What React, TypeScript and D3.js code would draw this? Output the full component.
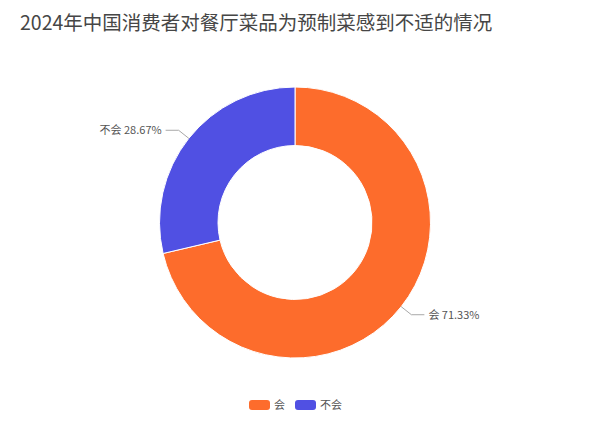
import * as d3 from "d3";
import { useEffect, useRef } from "react";

const categories = ["会", "不会"];
const values = [71.33, 28.67];
const colors = ["#fd6c2c", "#5050e3"];
const title = "2024年中国消费者对餐厅菜品为预制菜感到不适的情况";

const W = 600;
const H = 422;
const FONT = "'Noto Sans CJK SC', 'Noto Sans', sans-serif";

interface Slice {
  label: string;
  value: number;
  color: string;
}

const slices: Slice[] = categories.map((c, i) => ({
  label: c,
  value: values[i],
  color: colors[i],
}));

export default function App() {
  const svgRef = useRef<SVGSVGElement>(null);

  useEffect(() => {
    if (!svgRef.current) return;
    const svg = d3.select(svgRef.current);
    svg.selectAll("*").remove();

    const cx = 295;
    const cy = 222.5;
    const outer = 135.5;
    const inner = 77;

    svg
      .append("text")
      .attr("x", 20)
      .attr("y", 30)
      .attr("font-size", "19.5px")
      .attr("font-family", FONT)
      .attr("fill", "#464646")
      .text(title);

    const g = svg.append("g").attr("transform", `translate(${cx},${cy})`);

    const pie = d3
      .pie<Slice>()
      .value((d) => d.value)
      .sort(null);

    const arc = d3
      .arc<d3.PieArcDatum<Slice>>()
      .innerRadius(inner)
      .outerRadius(outer);

    const arcs = pie(slices);

    g.selectAll("path")
      .data(arcs)
      .join("path")
      .attr("d", arc)
      .attr("fill", (d) => d.data.color)
      .attr("stroke", "#ffffff")
      .attr("stroke-width", 1);

    // label lines + labels
    const len1 = 13;
    const len2 = 13;
    arcs.forEach((d) => {
      const mid = (d.startAngle + d.endAngle) / 2;
      const sx = Math.sin(mid);
      const sy = -Math.cos(mid);
      const p0 = [sx * outer, sy * outer];
      const p1 = [sx * (outer + len1), sy * (outer + len1)];
      const dir = sx >= 0 ? 1 : -1;
      const p2 = [p1[0] + dir * len2, p1[1]];
      g.append("polyline")
        .attr("points", [p0, p1, p2].map((p) => p.join(",")).join(" "))
        .attr("fill", "none")
        .attr("stroke", "#a8a8a8")
        .attr("stroke-width", 1);
      g.append("text")
        .attr("x", p2[0] + dir * 4)
        .attr("y", p2[1])
        .attr("dy", "0.35em")
        .attr("text-anchor", dir > 0 ? "start" : "end")
        .attr("font-size", "11px")
        .attr("font-family", FONT)
        .attr("fill", "#555555")
        .text(`${d.data.label} ${d.data.value.toFixed(2)}%`);
    });

    // legend
    const legendY = 405;
    const itemW = 21;
    const itemH = 10;
    const legend = svg.append("g");
    let x = 249;
    slices.forEach((s) => {
      legend
        .append("rect")
        .attr("x", x)
        .attr("y", legendY - itemH / 2)
        .attr("width", itemW)
        .attr("height", itemH)
        .attr("rx", 3)
        .attr("fill", s.color);
      const t = legend
        .append("text")
        .attr("x", x + itemW + 4)
        .attr("y", legendY)
        .attr("dy", "0.35em")
        .attr("font-size", "11px")
        .attr("font-family", FONT)
        .attr("fill", "#555555")
        .text(s.label);
      const tw = (t.node() as SVGTextElement).getComputedTextLength();
      x += itemW + 4 + tw + 10;
    });
  }, []);

  return (
    <div style={{ position: "absolute", left: 0, top: 0, background: "#fff" }}>
      <svg ref={svgRef} width={W} height={H} style={{ display: "block" }} />
    </div>
  );
}
